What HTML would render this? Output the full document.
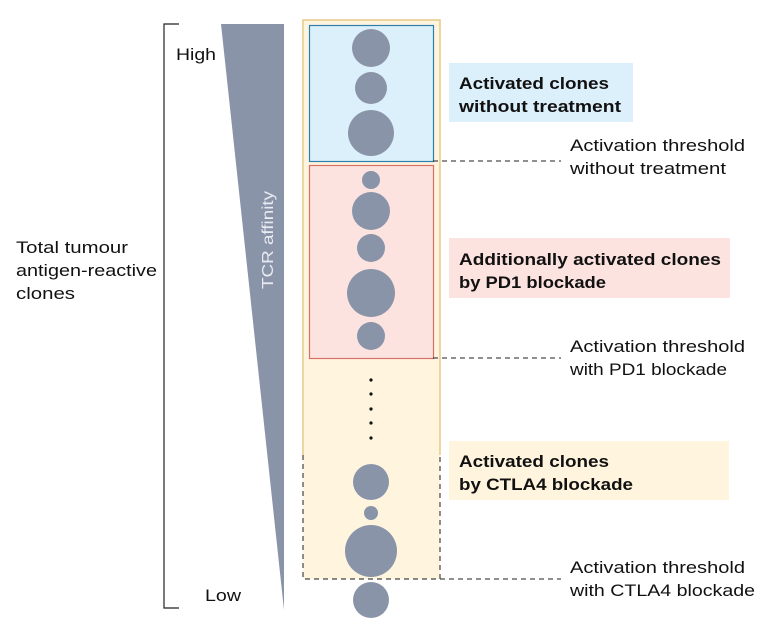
<!DOCTYPE html>
<html><head><meta charset="utf-8"><style>
html,body{margin:0;padding:0;background:#fff}
svg text{font-family:"Liberation Sans",sans-serif}
</style></head><body>
<svg width="776" height="628" viewBox="0 0 776 628" xmlns="http://www.w3.org/2000/svg">
<path d="M179 24 H164 V608 H179" fill="none" stroke="#222" stroke-width="1.2"/>
<text x="176" y="60" font-size="17" fill="#111" textLength="40" lengthAdjust="spacingAndGlyphs">High</text>
<text x="205" y="601" font-size="17" fill="#111" textLength="36" lengthAdjust="spacingAndGlyphs">Low</text>
<text x="16" y="253" font-size="17" fill="#111" textLength="112" lengthAdjust="spacingAndGlyphs">Total tumour</text>
<text x="16" y="276" font-size="17" fill="#111" textLength="141" lengthAdjust="spacingAndGlyphs">antigen-reactive</text>
<text x="16" y="299" font-size="17" fill="#111" textLength="59" lengthAdjust="spacingAndGlyphs">clones</text>
<polygon points="221,24 284,24 284,610" fill="#8a94a9"/>
<text transform="translate(273,240) rotate(-90)" text-anchor="middle" font-size="16" fill="#e8ebf2" textLength="98" lengthAdjust="spacingAndGlyphs">TCR affinity</text>
<rect x="303" y="20" width="137" height="559" fill="#fff4de"/>
<path d="M303 455 V20 H440 V455" fill="none" stroke="#e6c98a" stroke-width="1.5"/>
<path d="M303 455 V579 H440 V455" fill="none" stroke="#444" stroke-width="1.2" stroke-dasharray="5,4"/>
<rect x="309.5" y="25.5" width="124" height="136" fill="#dcf0fb" stroke="#2c7fad" stroke-width="1.2"/>
<rect x="309.5" y="165.5" width="124" height="193" fill="#fde3df" stroke="#d8706a" stroke-width="1.2"/>
<g fill="#8a94a9">
<circle cx="371" cy="48" r="19"/><circle cx="371" cy="88" r="16"/><circle cx="371" cy="133" r="23"/>
<circle cx="371" cy="180" r="9"/><circle cx="371" cy="211" r="19"/><circle cx="371" cy="248" r="14"/>
<circle cx="371" cy="293" r="24"/><circle cx="371" cy="336" r="14"/>
<circle cx="371" cy="482" r="18"/><circle cx="371" cy="513" r="7"/><circle cx="371" cy="551" r="26"/><circle cx="371" cy="600" r="18"/>
</g>
<g fill="#111"><circle cx="371" cy="380" r="1.6"/><circle cx="371" cy="394" r="1.6"/><circle cx="371" cy="409" r="1.6"/><circle cx="371" cy="423" r="1.6"/><circle cx="371" cy="438" r="1.6"/></g>
<g stroke="#222" stroke-width="1" stroke-dasharray="5,4">
<line x1="433" y1="161" x2="561" y2="161"/>
<line x1="433" y1="358" x2="561" y2="358"/>
<line x1="440" y1="579" x2="561" y2="579"/>
</g>
<rect x="449" y="63" width="184" height="59" fill="#dcf0fb"/>
<g font-size="17" font-weight="bold" fill="#111" lengthAdjust="spacingAndGlyphs">
<text x="459" y="89" textLength="150" lengthAdjust="spacingAndGlyphs">Activated clones</text>
<text x="459" y="112" textLength="162" lengthAdjust="spacingAndGlyphs">without treatment</text>
</g>
<rect x="449" y="238" width="281" height="60" fill="#fde3df"/>
<g font-size="17" font-weight="bold" fill="#111">
<text x="459" y="265" textLength="262" lengthAdjust="spacingAndGlyphs">Additionally activated clones</text>
<text x="459" y="288" textLength="147" lengthAdjust="spacingAndGlyphs">by PD1 blockade</text>
</g>
<rect x="449" y="441" width="280" height="59" fill="#fff4de"/>
<g font-size="17" font-weight="bold" fill="#111">
<text x="459" y="467" textLength="150" lengthAdjust="spacingAndGlyphs">Activated clones</text>
<text x="459" y="490" textLength="174" lengthAdjust="spacingAndGlyphs">by CTLA4 blockade</text>
</g>
<g font-size="17" fill="#111">
<text x="570" y="151" textLength="175" lengthAdjust="spacingAndGlyphs">Activation threshold</text><text x="570" y="174" textLength="156" lengthAdjust="spacingAndGlyphs">without treatment</text>
<text x="570" y="352" textLength="175" lengthAdjust="spacingAndGlyphs">Activation threshold</text><text x="570" y="375" textLength="157" lengthAdjust="spacingAndGlyphs">with PD1 blockade</text>
<text x="570" y="573" textLength="175" lengthAdjust="spacingAndGlyphs">Activation threshold</text><text x="570" y="596" textLength="185" lengthAdjust="spacingAndGlyphs">with CTLA4 blockade</text>
</g>
</svg>
</body></html>
